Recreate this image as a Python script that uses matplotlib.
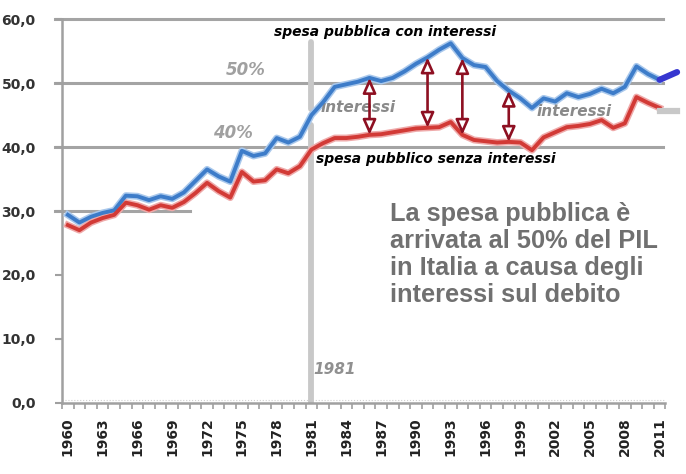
import matplotlib.pyplot as plt
import numpy as np

years = np.arange(1960, 2012)
spesa_con = [29.4, 28.2, 29.1, 29.7, 30.1, 32.4, 32.3, 31.7, 32.3, 31.9,
             32.9, 34.7, 36.5, 35.4, 34.6, 39.4, 38.6, 39.0, 41.4, 40.7,
             41.6, 45.0, 47.0, 49.4, 49.8, 50.2, 50.8, 50.3, 50.8, 51.8,
             53.0, 54.0, 55.2, 56.2, 53.9, 52.8, 52.5, 50.3, 48.8, 47.6,
             46.1, 47.6, 47.1, 48.4, 47.8, 48.3, 49.1, 48.4, 49.4, 52.6,
             51.4, 50.5]
spesa_senza = [27.8, 27.0, 28.2, 28.9, 29.4, 31.3, 30.9, 30.2, 30.9, 30.5,
               31.4, 32.8, 34.4, 33.1, 32.1, 36.1, 34.6, 34.8, 36.5, 35.9,
               37.0, 39.6, 40.6, 41.4, 41.4, 41.6, 41.9, 42.0, 42.3, 42.6,
               42.9, 43.0, 43.1, 43.9, 41.9, 41.1, 40.9, 40.7, 40.8, 40.7,
               39.5, 41.5, 42.3, 43.1, 43.3, 43.6, 44.2, 43.0, 43.7, 47.8,
               46.9, 46.1]
# tratto finale aggiunto a mano (stima)
proj_years = [2011, 2012.5]
proj_con = [50.5, 51.7]
proj_senza = [45.7, 45.7]
arrow_years = [1986, 1991, 1994, 1998]
yticks = [0, 10, 20, 30, 40, 50, 60]
xlabel_years = list(range(1960, 2012, 3))

con = dict(zip(years, spesa_con))
senza = dict(zip(years, spesa_senza))

fig = plt.figure(figsize=(6.86, 4.74), dpi=100)
ax = fig.add_axes([0.0904, 0.1498, 0.8796, 0.8101])
ax.set_xlim(1959.5, 2011.5)
ax.set_ylim(0, 60)

# griglia
grid_c = '#a4a4a4'
for v in [40, 50, 60]:
    ax.plot([1958.9, 2011.3], [v, v], color=grid_c, lw=2.2, clip_on=False, zorder=1)
ax.plot([1958.9, 1970.5], [30, 30], color=grid_c, lw=2.2, clip_on=False, zorder=1)
ax.axhline(0.4, color='#d0d0d0', lw=0.8, ls=':', zorder=1)

# barra 1981
ax.plot([1981, 1981], [56.4, 46.0], color='#c8c8c8', lw=4.2,
        solid_capstyle='round', zorder=2)
ax.plot([1981, 1981], [43.4, 0], color='#c8c8c8', lw=4.2,
        solid_capstyle='round', zorder=2)

# serie
ax.plot(years, spesa_con, color='#a9c8ec', lw=5, zorder=3)
ax.plot(years, spesa_con, color='#3d7cc9', lw=2.8, zorder=4)
ax.plot(years, spesa_senza, color='#efaaaa', lw=5, zorder=3)
ax.plot(years, spesa_senza, color='#d23a36', lw=2.8, zorder=4)
ax.plot(proj_years, proj_con, color='#3636d0', lw=4.5, clip_on=False,
        solid_capstyle='round', zorder=5)
ax.plot(proj_years, proj_senza, color='#c8c8c8', lw=4.5, clip_on=False,
        zorder=5)

# frecce interessi
for yr in arrow_years:
    ax.annotate('', xy=(yr, con[yr]), xytext=(yr, senza[yr]),
                arrowprops=dict(arrowstyle='<|-|>,head_length=0.9,head_width=0.4',
                                facecolor='white', edgecolor='#8e1022', lw=1.9,
                                shrinkA=0, shrinkB=0),
                zorder=6)

# assi
for s in ['top', 'right']:
    ax.spines[s].set_visible(False)
ax.spines['left'].set_color('#a0a0a0')
ax.spines['left'].set_linewidth(1.8)
ax.spines['bottom'].set_color('#a0a0a0')
ax.spines['bottom'].set_linewidth(1.8)

ax.set_yticks(yticks)
ax.set_yticklabels(['%d,0' % v for v in yticks])
ax.tick_params(axis='y', length=5, width=1.5, color='#a0a0a0', pad=14,
               labelsize=10, labelcolor='#333333')
for lab in ax.get_yticklabels():
    lab.set_fontweight('bold')

ax.set_xticks(xlabel_years)
ax.set_xticklabels([str(y) for y in xlabel_years], rotation=90)
ax.set_xticks(np.arange(1959.5, 2012, 1), minor=True)
ax.tick_params(axis='x', which='major', length=0, pad=10, labelsize=10,
               labelcolor='#222222')
ax.tick_params(axis='x', which='minor', length=4, width=1.2, color='#a0a0a0')
for lab in ax.get_xticklabels():
    lab.set_fontweight('bold')

# testi
ax.text(1987.3, 58.0, 'spesa pubblica con interessi', ha='center', va='center',
        fontsize=10, fontweight='bold', fontstyle='italic', color='black')
ax.text(1991.7, 38.1, 'spesa pubblico senza interessi', ha='center', va='center',
        fontsize=10, fontweight='bold', fontstyle='italic', color='black')
ax.text(1975.3, 52.0, '50%', ha='center', va='center', fontsize=12,
        fontstyle='italic', fontweight='bold', color='#a0a0a0')
ax.text(1974.2, 42.2, '40%', ha='center', va='center', fontsize=12,
        fontstyle='italic', fontweight='bold', color='#a0a0a0')
ax.text(1985.0, 46.1, 'interessi', ha='center', va='center', fontsize=11,
        fontstyle='italic', fontweight='bold', color='#8a8a8a')
ax.text(2003.6, 45.6, 'interessi', ha='center', va='center', fontsize=11,
        fontstyle='italic', fontweight='bold', color='#8a8a8a')
ax.text(1983.0, 5.2, '1981', ha='center', va='center', fontsize=11,
        fontstyle='italic', fontweight='bold', color='#909090')
ax.text(1987.8, 31.4, 'La spesa pubblica è\narrivata al 50% del PIL\n'
        'in Italia a causa degli\ninteressi sul debito',
        ha='left', va='top', fontsize=18.3, family='Liberation Sans',
        fontweight='bold', color='#707070', linespacing=1.16)

plt.savefig('out.png')
